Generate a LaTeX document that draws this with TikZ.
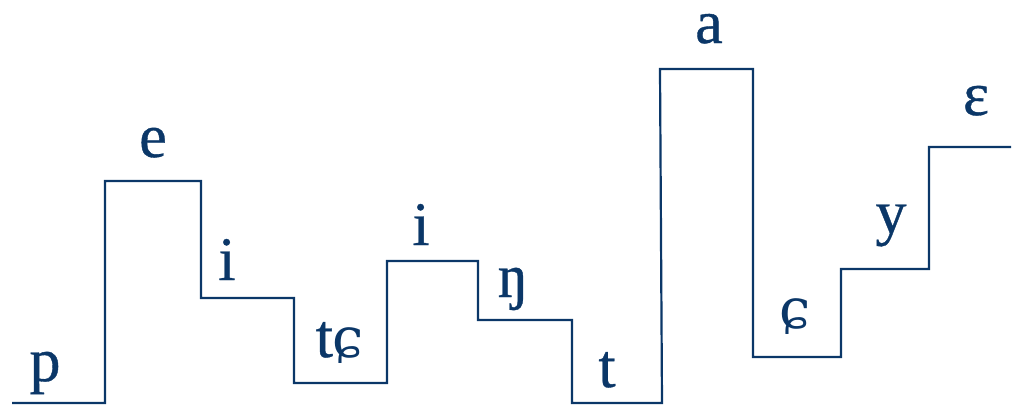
\documentclass[tikz,border=0pt]{standalone}
\usepackage{fontspec}
\setmainfont{Liberation Serif}
\newfontfamily\labfont{Liberation Serif}[FakeBold=0.6]
\newfontfamily\curlfont{DejaVu Serif}
\definecolor{ink}{HTML}{0B3768}
\newcommand{\curlc}{{\curlfont\fontsize{56}{56}\selectfont ɕ}}
\begin{document}
\begin{tikzpicture}[x=1pt,y=-1pt,
  stepline/.style={draw=ink,line width=2.2pt,line join=miter},
  lab/.style={text=ink,font=\labfont\fontsize{62}{62}\selectfont,anchor=base,inner sep=0pt}]
\useasboundingbox (0,0) rectangle (1012,405);
% corner coordinates
\coordinate (s0) at (12,403);
\coordinate (s1) at (105,403);
\coordinate (s2) at (105,181);
\coordinate (s3) at (201,181);
\coordinate (s4) at (201,298);
\coordinate (s5) at (294,298);
\coordinate (s6) at (294,383);
\coordinate (s7) at (387,383);
\coordinate (s8) at (387,261);
\coordinate (s9) at (478,261);
\coordinate (s10) at (478,320);
\coordinate (s11) at (572,320);
\coordinate (s12) at (572,403);
\coordinate (s13) at (662,403);
\coordinate (s14) at (660,69);
\coordinate (s15) at (753,69);
\coordinate (s16) at (753,357);
\coordinate (s17) at (841,357);
\coordinate (s18) at (841,269);
\coordinate (s19) at (929,269);
\coordinate (s20) at (929,147);
\coordinate (s21) at (1011,147);
\draw[stepline] (s0) -- (s1) -- (s2) -- (s3) -- (s4) -- (s5) -- (s6) -- (s7) -- (s8) -- (s9) -- (s10) -- (s11) -- (s12) -- (s13) -- (s14) -- (s15) -- (s16) -- (s17) -- (s18) -- (s19) -- (s20) -- (s21);
% labels
\node[lab] (lp) at (45,381) {p};
\node[lab] (le) at (153,157) {e};
\node[lab] (li1) at (227,280) {i};
\node[lab] (ltc) at (340,357) {t\curlc};
\node[lab] (li2) at (421,245) {i};
\node[lab] (lng) at (513,297) {ŋ};
\node[lab] (lt) at (607,387) {t};
\node[lab,text height=32pt] (la) at (709,43) {a};
\node[lab] (lcc) at (795,328) {\curlc};
\node[lab] (ly) at (891,233) {y};
\node[lab] (leps) at (976,115) {ɛ};
\end{tikzpicture}
\end{document}
